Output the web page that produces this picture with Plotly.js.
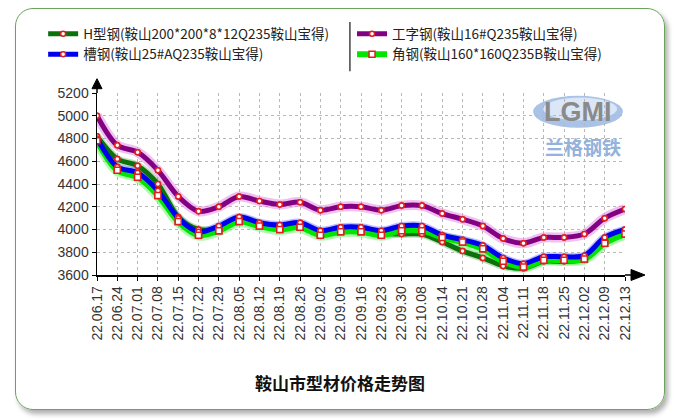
<!DOCTYPE html>
<html>
<head>
<meta charset="utf-8">
<script src="https://cdn.plot.ly/plotly-3.0.1.min.js"></script>
<style>
  body { margin: 0; background: #fff; }
  #frame { position: absolute; left: 15px; top: 8px; width: 648px; height: 400px;
           border: 1.5px solid #6aa35a; border-radius: 18px; box-shadow: 3px 4px 5px #b0b0b0; }
  #chart { position: absolute; left: 0; top: 0; width: 679px; height: 420px; }
</style>
</head>
<body>
<div id="frame"></div>
<div id="chart"></div>
<script>
// weekly dates
let dates = ["22.06.17","22.06.24","22.07.01","22.07.08","22.07.15","22.07.22","22.07.29",
  "22.08.05","22.08.12","22.08.19","22.08.26","22.09.02","22.09.09","22.09.16","22.09.23",
  "22.09.30","22.10.08","22.10.14","22.10.21","22.10.28","22.11.04","22.11.11","22.11.18",
  "22.11.25","22.12.02","22.12.09","22.12.13"];

let hBeam   = [4820,4620,4560,4400,4110,4000,4010,4100,4050,4020,4040,3980,4000,4000,3970,3960,3960,3890,3810,3750,3680,3660,3720,3720,3740,3890,3970];
let channel = [4800,4550,4500,4340,4100,3980,4030,4110,4060,4040,4060,3990,4020,4020,3990,4030,4030,3950,3910,3860,3750,3700,3760,3760,3770,3930,4000];
let iBeam   = [5000,4740,4680,4520,4290,4160,4200,4290,4250,4220,4240,4170,4200,4200,4170,4210,4210,4140,4090,4030,3920,3880,3930,3930,3960,4100,4180];
let angle   = [4780,4520,4460,4300,4070,3950,3990,4070,4030,4000,4020,3950,3980,3980,3950,3990,3990,3930,3890,3830,3720,3670,3730,3730,3740,3880,3960];

let names = {
  h: "H型钢(鞍山200*200*8*12Q235鞍山宝得)",
  c: "槽钢(鞍山25#AQ235鞍山宝得)",
  i: "工字钢(鞍山16#Q235鞍山宝得)",
  a: "角钢(鞍山160*160Q235B鞍山宝得)"
};

let dotMarker = {symbol: 'circle', size: 5, color: '#fff', line: {color: '#e02020', width: 1.5}};
let sqMarker = {symbol: 'square', size: 6, color: '#fff', line: {color: '#e02020', width: 1.5}};

function halo(y, color, width) {
  return {x: dates, y: y, mode: 'lines', line: {color: color, width: width, shape: 'spline', smoothing: 0.9},
    showlegend: false, hoverinfo: 'skip'};
}

function series(y, name, color, width, marker, legend, rank) {
  return {x: dates, y: y, name: name, mode: 'lines+markers',
    line: {color: color, width: width, shape: 'spline', smoothing: 0.9},
    marker: marker, legend: legend, legendrank: rank};
}

function dots(y, marker) {
  return {x: dates, y: y, mode: 'markers', marker: marker, showlegend: false, hoverinfo: 'skip'};
}

let data = [
  halo(iBeam, 'rgba(225,130,225,0.5)', 10),
  halo(hBeam, 'rgba(60,160,60,0.35)', 8),
  halo(angle, 'rgba(110,245,110,0.55)', 11),
  halo(channel, 'rgba(90,90,255,0.4)', 8),
  series(hBeam, names.h, '#0b720b', 5, dotMarker, 'legend', 1),
  series(angle, names.a, '#00e600', 6, sqMarker, 'legend2', 2),
  series(channel, names.c, '#0000f0', 5, dotMarker, 'legend', 2),
  series(iBeam, names.i, '#820082', 5, dotMarker, 'legend2', 1),
  dots(hBeam, dotMarker),
  dots(channel, dotMarker),
  dots(angle, sqMarker),
  dots(iBeam, dotMarker)
];

let tickFont = {family: 'Liberation Sans, Arial, sans-serif', size: 14, color: '#333'};
let legendFont = {family: 'Noto Sans CJK SC, sans-serif', size: 13.5, color: '#222'};

let layout = {
  width: 679, height: 420,
  margin: {l: 97, r: 54, t: 93.3, b: 144.6},
  paper_bgcolor: 'rgba(0,0,0,0)',
  plot_bgcolor: 'rgba(0,0,0,0)',
  showlegend: true,
  xaxis: {
    type: 'category', range: [0, 26],
    showgrid: true, gridcolor: '#b8b8b8', griddash: 'dot', gridwidth: 1,
    showline: true, linecolor: '#000', linewidth: 1.5,
    ticks: 'outside', ticklen: 4, tickcolor: '#000', tickangle: -90,
    tickfont: tickFont, zeroline: false, fixedrange: true
  },
  yaxis: {
    range: [3600, 5200], dtick: 200,
    showgrid: true, gridcolor: '#b8b8b8', griddash: 'dot', gridwidth: 1,
    showline: true, linecolor: '#000', linewidth: 1.5,
    ticks: 'outside', ticklen: 4, tickcolor: '#000',
    tickfont: tickFont, zeroline: false, fixedrange: true
  },
  legend: {x: -0.102, y: 1.41, xanchor: 'left', yanchor: 'top', font: legendFont,
    bgcolor: 'rgba(0,0,0,0)', tracegroupgap: 0},
  legend2: {x: 0.483, y: 1.41, xanchor: 'left', yanchor: 'top', font: legendFont,
    bgcolor: 'rgba(0,0,0,0)', tracegroupgap: 0},
  shapes: [
    // logo ellipse
    {type: 'circle', xref: 'paper', yref: 'paper', x0: 0.826, x1: 0.996, y0: 0.809, y1: 0.985,
      fillcolor: '#a9c2e6', line: {width: 0}, layer: 'below'},
    {type: 'circle', xref: 'paper', yref: 'paper', x0: 0.845, x1: 0.985, y0: 0.85, y1: 0.975,
      fillcolor: '#dbe6f6', line: {width: 0}, layer: 'below'},
    // legend divider
    {type: 'line', xref: 'paper', yref: 'paper', x0: 0.479, x1: 0.479, y0: 1.12, y1: 1.39,
      line: {color: '#444', width: 1.5}},
    // y axis arrow
    {type: 'line', xref: 'paper', yref: 'paper', x0: 0, x1: 0, y0: 1, y1: 1.04,
      line: {color: '#000', width: 1.5}},
    {type: 'path', xref: 'paper', yref: 'paper', path: 'M -0.0095 1.0236 L 0 1.0785 L 0.0095 1.0236 Z',
      fillcolor: '#000', line: {color: '#000', width: 1}},
    // x axis arrow
    {type: 'line', xref: 'paper', yref: 'paper', x0: 1, x1: 1.02, y0: 0, y1: 0,
      line: {color: '#000', width: 1.5}},
    {type: 'path', xref: 'paper', yref: 'paper', path: 'M 1.0114 0.0302 L 1.0379 0 L 1.0114 -0.0302 Z',
      fillcolor: '#000', line: {color: '#000', width: 1}}
  ],
  annotations: [
    {xref: 'paper', yref: 'paper', x: 0.911, y: 0.897, xanchor: 'center', yanchor: 'middle', showarrow: false,
      text: '<b>LGMI</b>',
      font: {family: 'Liberation Sans, Arial, sans-serif', size: 27, color: '#8a8a8a'}},
    {xref: 'paper', yref: 'paper', x: 0.92, y: 0.705, xanchor: 'center', yanchor: 'middle', showarrow: false,
      text: '<b>兰格钢铁</b>',
      font: {family: 'Noto Sans CJK SC, sans-serif', size: 19, color: '#93b2dc'}},
    {xref: 'paper', yref: 'paper', x: 0.46, y: -0.591, xanchor: 'center', yanchor: 'middle', showarrow: false,
      text: '<b>鞍山市型材价格走势图</b>',
      font: {family: 'Noto Sans CJK SC, sans-serif', size: 17, color: '#111'}}
  ]
};

Plotly.newPlot('chart', data, layout, {displayModeBar: false, staticPlot: true});
</script>
</body>
</html>
